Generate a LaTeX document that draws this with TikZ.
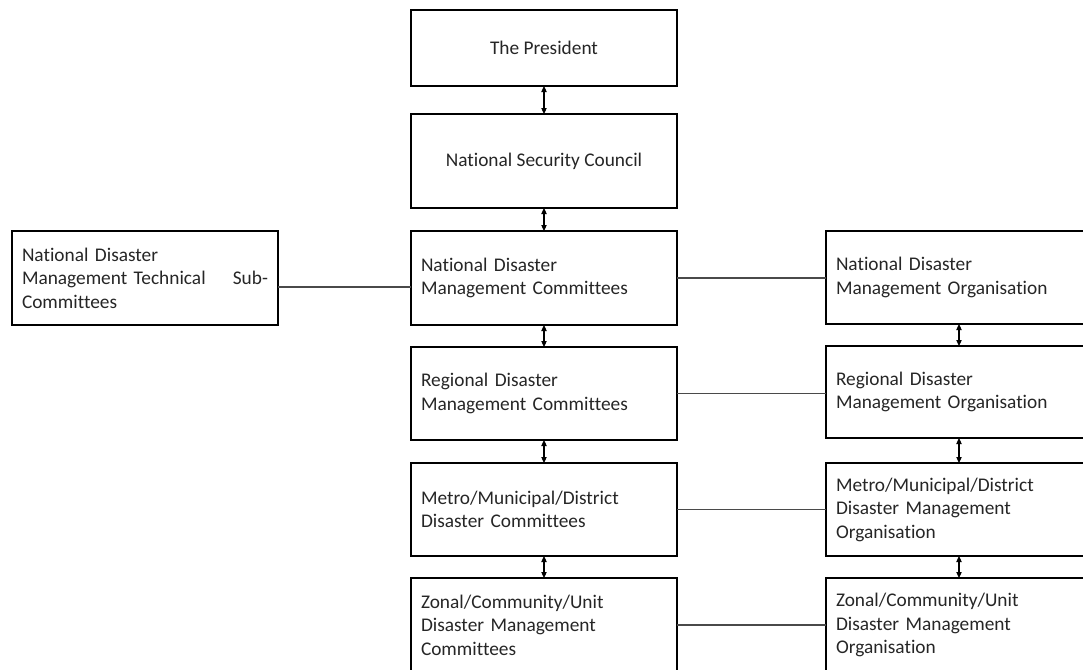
\documentclass[tikz,border=0pt]{standalone}
\usepackage{fontspec}
\usetikzlibrary{arrows.meta}
\newfontfamily\boxfont[Ligatures=NoCommon]{Carlito}
\definecolor{textgray}{HTML}{262626}
\definecolor{linegray}{HTML}{4A4A4A}
\begin{document}
\begin{tikzpicture}[x=0.75pt,y=-0.75pt,
  box/.style={draw=black, line width=0.8pt, minimum width=199.5pt, minimum height=70.5pt,
    inner sep=0pt, outer sep=0pt, anchor=north west, text=textgray,
    font=\boxfont\fontsize{14.5pt}{17.6pt}\selectfont},
  lbox/.style={box, text width=184.5pt, align=left},
  cbox/.style={box, align=center},
  updown/.style={{Triangle[length=4.5pt,width=4pt]}-{Triangle[length=4.5pt,width=4pt]}, line width=0.8pt, black},
  link/.style={line width=0.8pt, linegray}]
\clip (0,0) rectangle (1083,669);
\fill[white] (0,0) rectangle (1083,669);
% centre column
\node[cbox, minimum height=57pt] (P) at (411,10) {The President};
\node[cbox] (NSC) at (411,114) {National Security Council};
\node[lbox] (NDMC) at (411,231) {National Disaster\\Management Committees};
\node[lbox, minimum height=69.75pt] (RDMC) at (411,347) {Regional Disaster\\Management Committees};
\node[lbox, minimum height=69.75pt] (MMD) at (411,463) {Metro/Municipal/District\\Disaster Committees};
\node[lbox] (ZCU) at (411,578) {Zonal/Community/Unit\\Disaster Management\\Committees};
% left
\node[lbox] (TECH) at (12,231) {National Disaster\\Management Technical\hfill Sub-\\Committees};
% right column
\node[lbox, minimum height=69.75pt] (NDMO) at (826,231) {National Disaster\\Management Organisation};
\node[lbox, minimum height=69pt] (RDMO) at (826,346) {Regional Disaster\\Management Organisation};
\node[lbox, minimum height=69.75pt] (MMDO) at (826,463) {Metro/Municipal/District\\Disaster Management\\Organisation};
\node[lbox] (ZCUO) at (826,578) {Zonal/Community/Unit\\Disaster Management\\Organisation};
% vertical double arrows
\draw[updown] (P.south) -- (NSC.north);
\draw[updown] (NSC.south) -- (NDMC.north);
\draw[updown] (NDMC.south) -- (RDMC.north);
\draw[updown] (RDMC.south) -- (MMD.north);
\draw[updown] (MMD.south) -- (ZCU.north);
\draw[updown] (NDMO.south) -- (RDMO.north);
\draw[updown] (RDMO.south) -- (MMDO.north);
\draw[updown] (MMDO.south) -- (ZCUO.north);
% horizontal links
\draw[link] ([yshift=-6.75pt]TECH.east) -- ([yshift=-6.75pt]NDMC.west);
\draw[link] (NDMC.east) -- (NDMC.east -| NDMO.west);
\draw[link] (RDMC.east) -- (RDMC.east -| RDMO.west);
\draw[link] (MMD.east) -- (MMDO.west);
\draw[link] (ZCU.east) -- (ZCUO.west);
\end{tikzpicture}
\end{document}
